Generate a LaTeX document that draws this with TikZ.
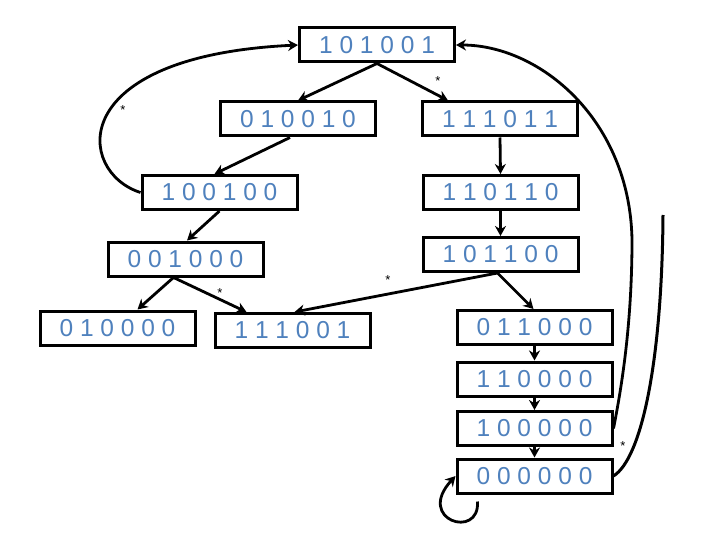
\documentclass[tikz,border=0pt]{standalone}
\usepackage{fontspec}
\setmainfont{Liberation Sans}
\usetikzlibrary{arrows.meta,positioning,calc}

\definecolor{bitblue}{RGB}{79,129,189}

\begin{document}
\begin{tikzpicture}[x=1pt,y=-1pt,
  state/.style={rectangle,draw=black,line width=3pt,fill=white,
                minimum width=155pt,minimum height=34pt,inner sep=0pt,
                text=bitblue,font=\fontsize{24.5}{30}\selectfont},
  arrow/.style={->,>={Stealth[length=10pt,width=11pt]},line width=2.8pt},
  backline/.style={line width=3pt},
  star/.style={font=\fontsize{13}{14}\selectfont,inner sep=0pt}
]
\useasboundingbox (0,0) rectangle (720,540);

% ===== TOP =====
\node[state] (s101001) at (377,45) {1 0 1 0 0 1};
\node[state] (s010010) at (298,119) {0 1 0 0 1 0};
\node[state] (s111011) at (500,119) {1 1 1 0 1 1};

% ===== LEFT BRANCH =====
\node[state] (s100100) at (219.5,192.5) {1 0 0 1 0 0};
\node[state] (s001000) at (185.5,259) {0 0 1 0 0 0};
\node[state] (s010000) at (117.5,328) {0 1 0 0 0 0};
\node[state] (s111001) at (292.5,330.5) {1 1 1 0 0 1};

% ===== RIGHT BRANCH =====
\node[state] (s110110) at (500.5,192.5) {1 1 0 1 1 0};
\node[state] (s101100) at (500.5,254.5) {1 0 1 1 0 0};
\node[state] (s011000) at (534.5,327.5) {0 1 1 0 0 0};
\node[state] (s110000) at (534.5,379) {1 1 0 0 0 0};
\node[state] (s100000) at (534.5,428.5) {1 0 0 0 0 0};
\node[state] (s000000) at (534.5,476) {0 0 0 0 0 0};

% tree arrows
\draw[arrow] (s101001.south) -- (s010010.north);
\draw[arrow] (s101001.south) -- ([xshift=-52pt]s111011.north);
\draw[arrow] ([xshift=-8pt]s010010.south) -- ([xshift=-5pt]s100100.north);
\draw[arrow] (s111011.south) -- (s110110.north);
\draw[arrow] (s110110.south) -- (s101100.north);
\draw[arrow] (s100100.south) -- ([xshift=1.5pt]s001000.north);
\draw[arrow] ([xshift=-12pt]s001000.south) -- ([xshift=20pt]s010000.north);
\draw[arrow] ([xshift=-12pt]s001000.south) -- ([xshift=-46pt]s111001.north);
\draw[arrow] ([xshift=-3pt]s101100.south) -- ([xshift=2pt]s111001.north);
\draw[arrow] ([xshift=-3pt]s101100.south) -- ([xshift=-1pt]s011000.north);

% chain
\foreach \a/\b in {s011000/s110000,s110000/s100000,s100000/s000000} {
  \draw[arrow] (\a.south) -- (\b.north);
}

% back edges
\draw[arrow] (s100100.west) .. controls (76,172) and (64,56) .. (s101001.west);
\draw[arrow] (s100000.east) .. controls (620,395) and (632,330) .. (632,240)
                            .. controls (630,120) and (540,45) .. (s101001.east);
\coordinate (cut) at (663,215);
\draw[backline] (s000000.east) .. controls (642,458) and (662,360) .. (cut);
\draw[arrow] ([xshift=-57pt,yshift=-7pt]s000000.south) .. controls (480,540) and (415,520) .. (s000000.west);

% stars
\node[star] (st1) at (123,110) {*};
\node[star] (st2) at (438,81) {*};
\node[star] (st3) at (220,293) {*};
\node[star] (st4) at (388,280) {*};
\node[star] (st5) at (623,446) {*};

\end{tikzpicture}
\end{document}
